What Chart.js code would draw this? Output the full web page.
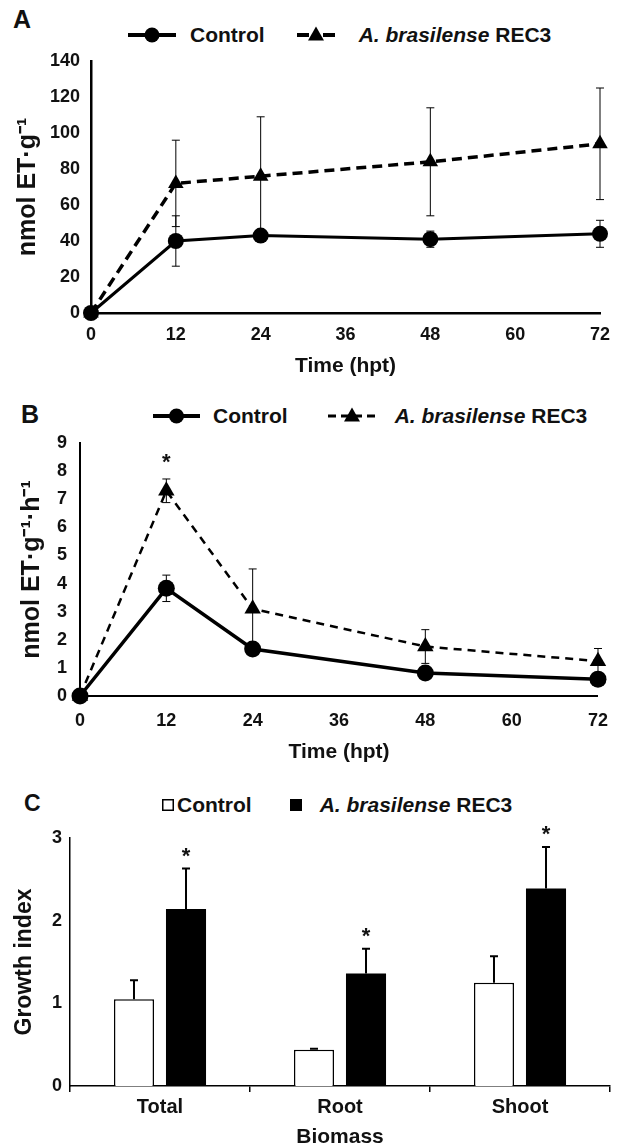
<!DOCTYPE html>
<html>
<head>
<meta charset="utf-8">
<script src="https://cdn.jsdelivr.net/npm/chart.js@4.4.1/dist/chart.umd.min.js"></script>
<style>
  body { margin: 0; background: #fff; }
  #page { position: relative; width: 622px; height: 1148px; overflow: hidden;
          font-family: "Liberation Sans", Arial, sans-serif; font-weight: bold; color: #111; }
  #page canvas { position: absolute; left: 0; }
  .letter { position: absolute; line-height: 1; }
  .legend { position: absolute; display: flex; align-items: center; height: 21px;
            font-size: 21px; line-height: 1; white-space: nowrap; }
  .legend .item { display: flex; align-items: center; }
  .legend svg { display: block; }
</style>
</head>
<body>
<div id="page">
  <div class="letter" style="left:13px;top:7px;font-size:25px">A</div>
  <div class="letter" style="left:21px;top:402px;font-size:25px">B</div>
  <div class="letter" style="left:24px;top:792px;font-size:23px">C</div>
  <div class="legend" id="legendA" style="left:128px;top:24px"></div>
  <div class="legend" id="legendB" style="left:153px;top:405px"></div>
  <div class="legend" id="legendC" style="left:162px;top:794px"></div>
  <canvas id="chartA" width="622" height="380" style="top:0px"></canvas>
  <canvas id="chartB" width="622" height="385" style="top:380px"></canvas>
  <canvas id="chartC" width="622" height="378" style="top:770px"></canvas>
</div>
<script>
// --- data ---
const seriesNames = ['Control', 'A. brasilense REC3'];
const hours = [0, 12, 24, 48, 72];

// A: accumulated ethylene (nmol ET g-1)
const etControl = [0, 40, 43, 41, 44];
const etControlErr = [0, 14, 3, 4.5, 7.5];
const etRec3 = [0, 72, 76, 84, 94];
const etRec3Err = [0, 24, 33, 30, 31];

// B: ethylene rate (nmol ET g-1 h-1)
const rateControl = [0, 3.83, 1.67, 0.82, 0.6];
const rateControlErr = [0, 0.47, 0.08, 0.1, 0.08];
const rateRec3 = [0, 7.3, 3.1, 1.76, 1.24];
const rateRec3Err = [0, 0.42, 1.42, 0.6, 0.45];
const rateRec3Sig = [false, true, false, false, false];

// C: growth index
const biomass = ['Total', 'Root', 'Shoot'];
const growthControl = [1.05, 0.44, 1.25];
const growthControlErr = [0.23, 0.01, 0.32];
const growthRec3 = [2.14, 1.36, 2.39];
const growthRec3Err = [0.49, 0.3, 0.5];
const growthRec3Sig = [true, true, true];

const FONT = '"Liberation Sans", Arial, sans-serif';
const INK = '#111';
Chart.defaults.font.family = FONT;
Chart.defaults.font.weight = 'bold';
Chart.defaults.color = INK;
Chart.defaults.animation = false;

// error bars + significance stars, read from dataset.errors / dataset.stars
const errorBars = {
  id: 'errorBars',
  afterDatasetsDraw(chart, args, opts) {
    const ctx = chart.ctx;
    const yScale = chart.scales.y;
    chart.data.datasets.forEach((ds, i) => {
      if (!ds.errors) return;
      const meta = chart.getDatasetMeta(i);
      ctx.save();
      ctx.strokeStyle = '#000';
      ctx.lineWidth = opts.width;
      meta.data.forEach((el, j) => {
        const raw = ds.data[j];
        const v = typeof raw === 'object' ? raw.y : raw;
        const e = ds.errors[j];
        const top = yScale.getPixelForValue(v + e);
        if (e > 0) {
          const bottom = opts.upperOnly ? el.y : yScale.getPixelForValue(v - e);
          ctx.beginPath();
          ctx.moveTo(el.x, bottom);
          ctx.lineTo(el.x, top);
          ctx.moveTo(el.x - opts.cap, top);
          ctx.lineTo(el.x + opts.cap, top);
          if (!opts.upperOnly) {
            ctx.moveTo(el.x - opts.cap, bottom);
            ctx.lineTo(el.x + opts.cap, bottom);
          }
          ctx.stroke();
        }
        if (ds.stars && ds.stars[j]) {
          ctx.fillStyle = INK;
          ctx.font = 'bold 22px ' + FONT;
          ctx.textAlign = 'center';
          ctx.textBaseline = 'alphabetic';
          ctx.fillText('*', el.x, top - opts.starGap);
        }
      });
      ctx.restore();
    });
  }
};

function fitTo(box, h) {
  return {
    padding: { top: box.top, right: 622 - box.right, left: 0, bottom: 0 },
    xFit: s => { s.height = h - box.bottom; },
    yFit: s => { s.width = box.left; }
  };
}

function lineSet(label, ys, errs, extra) {
  return Object.assign({
    label: label,
    data: hours.map((h, i) => ({ x: h, y: ys[i] })),
    errors: errs,
    borderColor: '#000',
    backgroundColor: '#000',
    pointBackgroundColor: '#000',
    pointBorderColor: '#000',
    pointBorderWidth: 0,
    tension: 0,
    clip: false
  }, extra);
}

function timeChart(id, box, h, sets, yMax, yTitle, o) {
  const fit = fitTo(box, h);
  return new Chart(document.getElementById(id), {
    type: 'line',
    data: { datasets: sets },
    options: {
      responsive: false,
      layout: { padding: fit.padding },
      plugins: { legend: { display: false }, tooltip: { enabled: false },
                 errorBars: { width: 1, cap: 4, upperOnly: false, starGap: 10 } },
      scales: {
        x: {
          type: 'linear', min: 0, max: 72,
          afterFit: fit.xFit,
          ticks: { stepSize: 12, padding: o.xTickPad, font: { size: 18 }, color: INK },
          grid: { display: false, drawTicks: false },
          border: { display: true, color: '#000', width: o.border },
          title: { display: true, text: 'Time (hpt)', font: { size: 21 }, color: INK,
                   padding: { top: 0, bottom: o.xTitlePad } }
        },
        y: {
          min: 0, max: yMax,
          afterFit: fit.yFit,
          ticks: { stepSize: o.step, padding: o.tickPad, font: { size: 18 }, color: INK },
          grid: { display: false, drawTicks: false },
          border: { display: true, color: '#000', width: o.border },
          title: { display: true, text: yTitle, font: { size: 25 }, color: INK,
                   padding: { top: o.titlePad, bottom: 0 } }
        }
      }
    },
    plugins: [errorBars]
  });
}

// A
const chartA = timeChart('chartA', { left: 91, right: 600, top: 61, bottom: 313 }, 380, [
  lineSet(seriesNames[0], etControl, etControlErr,
    { borderWidth: 3, pointStyle: 'circle', pointRadius: 8 }),
  lineSet(seriesNames[1], etRec3, etRec3Err,
    { borderWidth: 3.5, borderDash: [10, 6], pointStyle: 'triangle', pointRadius: 9 })
], 140, 'nmol ET\u00b7g\u207b\u00b9',
  { step: 20, tickPad: 11, titlePad: 13, border: 2.5, xTickPad: 11, xTitlePad: 1 });

// B
const chartB = timeChart('chartB', { left: 80, right: 603, top: 63, bottom: 316 }, 385, [
  lineSet(seriesNames[0], rateControl, rateControlErr,
    { borderWidth: 3.5, pointStyle: 'circle', pointRadius: 8.5 }),
  lineSet(seriesNames[1], rateRec3, rateRec3Err,
    { borderWidth: 2.5, borderDash: [8, 6], pointStyle: 'triangle', pointRadius: 9.5, stars: rateRec3Sig })
], 9, 'nmol ET\u00b7g\u207b\u00b9\u00b7h\u207b\u00b9',
  { step: 1, tickPad: 13, titlePad: 17, border: 2, xTickPad: 14, xTitlePad: 0 });

// C
const fitC = fitTo({ left: 70, right: 610, top: 68, bottom: 316 }, 378);
const chartC = new Chart(document.getElementById('chartC'), {
  type: 'bar',
  data: {
    labels: biomass,
    datasets: [
      { label: seriesNames[0], data: growthControl, errors: growthControlErr,
        backgroundColor: '#fff', borderColor: '#000', borderWidth: 1.5 },
      { label: seriesNames[1], data: growthRec3, errors: growthRec3Err, stars: growthRec3Sig,
        backgroundColor: '#000', borderColor: '#000', borderWidth: 0 }
    ]
  },
  options: {
    responsive: false,
    layout: { padding: fitC.padding },
    datasets: { bar: { categoryPercentage: 0.578, barPercentage: 0.77 } },
    plugins: { legend: { display: false }, tooltip: { enabled: false },
               errorBars: { width: 2, cap: 4, upperOnly: true, starGap: 6 } },
    scales: {
      x: {
        afterFit: fitC.xFit,
        ticks: { padding: 3, font: { size: 20 }, color: INK },
        grid: { display: true, drawOnChartArea: false, drawTicks: true, tickLength: 6,
                offset: true, color: '#000', lineWidth: 1.5 },
        border: { display: true, color: '#000', width: 1.5 },
        title: { display: true, text: 'Biomass', font: { size: 21, lineHeight: 1 }, color: INK,
                 padding: { top: 0, bottom: 0 } }
      },
      y: {
        min: 0, max: 3,
        afterFit: fitC.yFit,
        ticks: { stepSize: 1, padding: 8, font: { size: 18 }, color: INK },
        grid: { display: false, drawTicks: false },
        border: { display: true, color: '#000', width: 1.5 },
        title: { display: true, text: 'Growth index', font: { size: 23 }, color: INK,
                 padding: { top: 11, bottom: 0 } }
      }
    }
  },
  plugins: [errorBars]
});

// --- html legends built from the chart datasets ---
function lineSymbol(w, lw, dash, style) {
  const c = w / 2;
  const mark = style === 'circle'
    ? `<circle cx="${c}" cy="10" r="7.5" fill="#000"/>`
    : `<polygon points="${c},1.5 ${c - 8},15.5 ${c + 8},15.5" fill="#000"/>`;
  const d = dash ? ` stroke-dasharray="${dash}"` : '';
  return `<svg width="${w}" height="20"><line x1="0" y1="10" x2="${w}" y2="10" stroke="#000" stroke-width="${lw}"${d}/>${mark}</svg>`;
}
function boxSymbol(fill) {
  return `<svg width="12" height="12"><rect x="0.75" y="0.75" width="10.5" height="10.5" fill="${fill}" stroke="#000" stroke-width="1.5"/></svg>`;
}
function buildLegend(elId, chart, symbols, gaps, spacing) {
  const el = document.getElementById(elId);
  chart.data.datasets.forEach((ds, i) => {
    const item = document.createElement('span');
    item.className = 'item';
    if (i > 0) item.style.marginLeft = spacing + 'px';
    const text = ds.label.replace(/^(A\. brasilense)/, '<i>$1</i>');
    item.innerHTML = symbols[i] + `<span style="margin-left:${gaps[i]}px">${text}</span>`;
    el.appendChild(item);
  });
}
buildLegend('legendA', chartA,
  [lineSymbol(48, 4, null, 'circle'), lineSymbol(38, 4, '12,14', 'triangle')], [14, 24], 32);
buildLegend('legendB', chartB,
  [lineSymbol(47, 4, null, 'circle'), lineSymbol(48, 3, '8,5', 'triangle')], [13, 19], 40);
buildLegend('legendC', chartC,
  [boxSymbol('#fff'), boxSymbol('#000')], [3, 18], 38);
</script>
</body>
</html>
